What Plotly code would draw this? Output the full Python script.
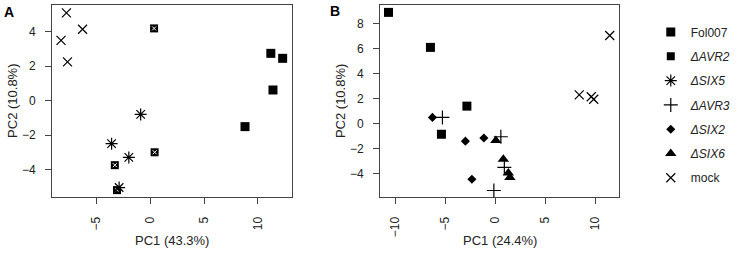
import plotly.graph_objects as go

# ---------------- data ----------------
# Panel A
fol_a_x = [11.2, 12.3, 11.4, 8.8]
fol_a_y = [2.75, 2.46, 0.62, -1.51]
avr2_a_x = [0.35, 0.4, -3.3, -3.1]
avr2_a_y = [4.2, -3.0, -3.75, -5.2]
six5_a_x = [-0.9, -3.6, -2.0, -2.9]
six5_a_y = [-0.8, -2.5, -3.3, -5.05]
mock_a_x = [-7.8, -6.3, -8.3, -7.7]
mock_a_y = [5.1, 4.15, 3.5, 2.25]

# Panel B
fol_b_x = [-10.7, -6.5, -2.85, -5.4]
fol_b_y = [8.9, 6.1, 1.4, -0.85]
avr3_b_x = [-5.3, 0.55, 0.9, -0.15]
avr3_b_y = [0.5, -1.05, -3.5, -5.35]
six2_b_x = [-6.3, -3.0, -1.15, -2.35]
six2_b_y = [0.5, -1.4, -1.15, -4.45]
six6_b_x = [0.05, 0.8, 1.3, 1.45]
six6_b_y = [-1.35, -2.85, -3.95, -4.3]
mock_b_x = [11.45, 8.4, 9.6, 9.85]
mock_b_y = [7.05, 2.3, 2.15, 1.95]

a_xticks = [-5, 0, 5, 10]
a_yticks = [-4, -2, 0, 2, 4]
b_xticks = [-10, -5, 0, 5, 10]
b_yticks = [-4, -2, 0, 2, 4, 6, 8]

names = ["Fol007", "<i>ΔAVR2</i>", "<i>ΔSIX5</i>", "<i>ΔAVR3</i>",
         "<i>ΔSIX2</i>", "<i>ΔSIX6</i>", "mock"]

FONT = "Liberation Sans, Arial, Helvetica, sans-serif"
BLK = "#000000"

fig = go.Figure()

def add(x, y, name, rank, symbol, size, xa, ya, show, filled=True, lw=1.2):
    if filled:
        marker = dict(symbol=symbol, size=size, color=BLK, line=dict(width=0))
    else:
        marker = dict(symbol=symbol, size=size, color=BLK,
                      line=dict(width=lw, color=BLK))
    fig.add_trace(go.Scatter(x=x, y=y, mode="markers", name=name,
                             legendgroup=name, showlegend=show,
                             legendrank=rank, marker=marker,
                             xaxis=xa, yaxis=ya, cliponaxis=False))

# Panel A
add(fol_a_x, fol_a_y, names[0], 1, "square", 9, "x", "y", True)
add(avr2_a_x, avr2_a_y, names[1], 2, "square", 8, "x", "y", True)
fig.add_trace(go.Scatter(x=avr2_a_x, y=avr2_a_y, mode="markers", showlegend=False,
                         marker=dict(symbol="x-thin-open", size=4, color="white",
                                     line=dict(width=1, color="white")),
                         xaxis="x", yaxis="y", hoverinfo="skip"))
add(six5_a_x, six5_a_y, names[2], 3, "asterisk-open", 10, "x", "y", True, filled=False)
add(mock_a_x, mock_a_y, names[6], 7, "x-thin-open", 9, "x", "y", True, filled=False)

# Panel B
add(fol_b_x, fol_b_y, names[0], 1, "square", 9, "x2", "y2", False)
add(avr3_b_x, avr3_b_y, names[3], 4, "cross-thin-open", 10, "x2", "y2", True, filled=False)
add(six2_b_x, six2_b_y, names[4], 5, "diamond", 7, "x2", "y2", True)
add(six6_b_x, six6_b_y, names[5], 6, "triangle-up", 10, "x2", "y2", True)
add(mock_b_x, mock_b_y, names[6], 7, "x-thin-open", 9, "x2", "y2", False, filled=False)

def axis(rng, ticks, domain=None, anchor=None, angle=0, standoff=4):
    d = dict(range=rng, tickvals=ticks, ticktext=[str(t).replace("-", "\u2212") for t in ticks],
             showline=True, mirror=True, linecolor="#444", linewidth=1,
             ticks="outside", ticklen=6, tickcolor="#444", tickwidth=1,
             showgrid=False, zeroline=False, tickangle=angle,
             tickfont=dict(family=FONT, size=12, color="#222"),
             ticklabelstandoff=standoff, automargin=False)
    if domain is not None:
        d["domain"] = domain
    if anchor is not None:
        d["anchor"] = anchor
    return d

fig.update_layout(
    width=737, height=254,
    margin=dict(l=52, r=118, t=5, b=57),
    paper_bgcolor="white", plot_bgcolor="white",
    font=dict(family=FONT, size=12, color="#222"),
    xaxis=axis([-9.14, 13.17], a_xticks, [0, 0.4233], "y", -90, 8),
    yaxis=axis([-5.6, 5.56], a_yticks, None, "x", 0, 7),
    xaxis2=axis([-11.55, 12.38], b_xticks, [0.5785, 1], "y2", -90, 8),
    yaxis2=axis([-5.87, 9.49], b_yticks, None, "x2", 0, 7),
    legend=dict(xref="container", yref="paper",
                x=0.883, y=0.935, xanchor="left", yanchor="top",
                font=dict(family=FONT, size=12, color="#222"),
                bgcolor="rgba(0,0,0,0)", itemsizing="trace",
                tracegroupgap=5.3),
    showlegend=True,
)

ann = [
    dict(text="PC1 (43.3%)", xref="x domain", x=0.5, yref="paper", y=-0.224),
    dict(text="PC1 (24.4%)", xref="x2 domain", x=0.5, yref="paper", y=-0.224),
    dict(text="PC2 (10.8%)", xref="x domain", x=-0.167, yref="y domain", y=0.5, textangle=-90),
    dict(text="PC2 (10.8%)", xref="x2 domain", x=-0.167, yref="y2 domain", y=0.5, textangle=-90),
    dict(text="<b>A</b>", xref="paper", x=-0.076, yref="paper", y=0.9635, font=dict(size=14, color="#000")),
    dict(text="<b>B</b>", xref="paper", x=0.499, yref="paper", y=0.971, font=dict(size=14, color="#000")),
]
for a in ann:
    a.setdefault("font", dict(size=13, color="#222"))
    a["font"]["family"] = FONT
    fig.add_annotation(showarrow=False, xanchor="center", yanchor="middle", **a)

fig.write_html("out.html", config={"displayModeBar": False},
               post_script="document.body.style.margin='0px';document.body.style.padding='0px';")
